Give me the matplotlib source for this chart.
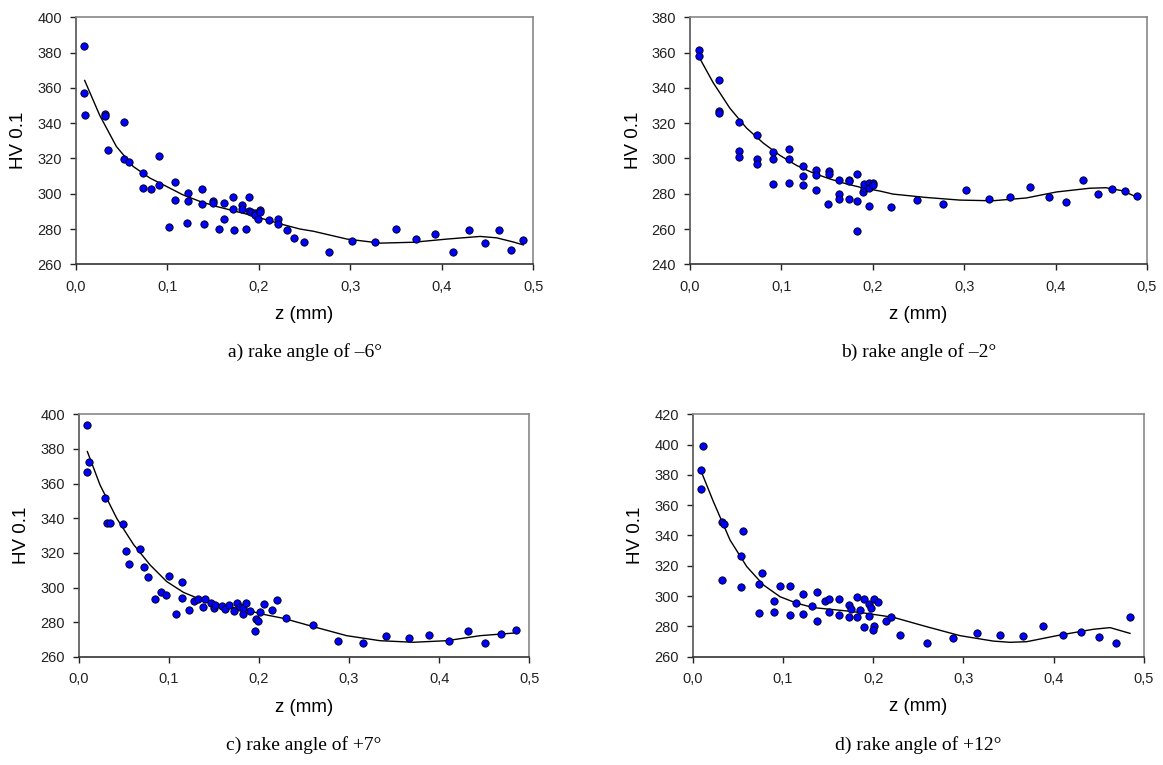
import matplotlib
matplotlib.use("Agg")
import matplotlib.pyplot as plt
import numpy as np

# a) rake angle -6
za = [0.0095, 0.0095, 0.0105, 0.0317, 0.0317, 0.0357, 0.053, 0.0525, 0.0587, 0.073,
      0.073, 0.082, 0.0907, 0.0907, 0.1016, 0.108, 0.108, 0.1228, 0.1228, 0.1217,
      0.1377, 0.1377, 0.14, 0.1505, 0.1505, 0.157, 0.1617, 0.1617, 0.172, 0.1716,
      0.1727, 0.1818, 0.1818, 0.1865, 0.1898, 0.1898, 0.191, 0.1956, 0.196, 0.2018,
      0.201, 0.1996, 0.2117, 0.2208, 0.2215, 0.231, 0.239, 0.249, 0.277, 0.302,
      0.327, 0.35, 0.372, 0.393, 0.412, 0.43, 0.447, 0.462, 0.476, 0.489]
hva = [384, 357, 344.5, 345.3, 344, 325, 340.6, 319.8, 318, 311.5,
       303, 302.5, 321.3, 304.7, 281.3, 306.8, 296.4, 300.4, 296, 283.6,
       302.8, 294, 283, 296, 295, 280, 294.7, 285.8, 298.1, 291.5,
       279.4, 293.8, 291.5, 280.2, 298.1, 290, 289.4, 289, 288, 290.6,
       289.4, 285.7, 285, 285.8, 283, 279.2, 275, 272.6, 266.8, 273.2,
       272.5, 280, 274.5, 277, 266.8, 279.2, 271.9, 279.6, 268.3, 273.8]
fit_za = [0.0098, 0.0262, 0.0444, 0.0627, 0.081, 0.099, 0.117, 0.1355, 0.1537, 0.172,
          0.19, 0.208, 0.2266, 0.245, 0.26, 0.2964, 0.333, 0.369, 0.4057, 0.442,
          0.46, 0.4785, 0.489]
fit_hva = [364.2, 344.5, 326.8, 315.5, 308.9, 304.2, 299.4, 295.7, 292.8, 290.4,
           288, 285.3, 282.5, 280, 278.7, 274.3, 272, 272.5, 274.3, 275.8,
           275, 272.6, 271]

# b) rake angle -2
zb = [0.0099, 0.0099, 0.0319, 0.0319, 0.0319, 0.0531, 0.0531, 0.0531, 0.0733, 0.0733,
      0.0733, 0.0912, 0.0912, 0.0912, 0.1084, 0.1084, 0.1084, 0.1234, 0.1234, 0.1234,
      0.1377, 0.138, 0.138, 0.1505, 0.1516, 0.1516, 0.1626, 0.1626, 0.1626, 0.1736,
      0.1736, 0.1736, 0.1828, 0.1828, 0.1828, 0.189, 0.1905, 0.1905, 0.1956, 0.1956,
      0.2007, 0.2007, 0.1956, 0.2204, 0.2485, 0.2766, 0.3018, 0.3266, 0.3496, 0.3719,
      0.393, 0.4117, 0.4296, 0.4467, 0.462, 0.476, 0.489]
hvb = [361.5, 358.1, 344.2, 327, 325.5, 320.4, 304.2, 301.1, 313.2, 299.8,
       296.6, 303.4, 299.6, 285.5, 305.5, 299.6, 286.2, 295.5, 290.2, 284.9,
       282.3, 293.2, 290.4, 274.2, 292.8, 291.3, 287.5, 279.8, 276.8, 288,
       287.2, 276.8, 291, 276, 259, 280.8, 283.2, 285.7, 286, 283,
       286, 285.1, 272.8, 272.3, 276.6, 274, 282.1, 277, 278.3, 283.6,
       277.9, 275.5, 287.5, 279.6, 282.8, 281.7, 278.9]
fit_zb = [0.0106, 0.0253, 0.0436, 0.0619, 0.0802, 0.0985, 0.1168, 0.135, 0.1535, 0.1718,
          0.19, 0.208, 0.222, 0.258, 0.295, 0.331, 0.368, 0.401, 0.437, 0.455,
          0.474, 0.489]
fit_hvb = [356.8, 343, 328.5, 317.2, 308.7, 301.7, 296, 291.7, 288.3, 285.5,
           283.2, 281.5, 279.8, 277.9, 276.4, 276, 277.6, 281, 283.1, 283.4,
           281.6, 278]

# c) rake angle +7
zc = [0.0096, 0.0111, 0.0096, 0.0296, 0.0318, 0.0344, 0.0496, 0.0525, 0.0559, 0.0677,
      0.0729, 0.077, 0.0847, 0.091, 0.0969, 0.1006, 0.1077, 0.1147, 0.1147, 0.1228,
      0.1276, 0.132, 0.138, 0.1398, 0.1472, 0.1498, 0.151, 0.159, 0.1624, 0.1672,
      0.1728, 0.1754, 0.1787, 0.182, 0.1828, 0.1861, 0.1898, 0.1961, 0.1968, 0.1994,
      0.2009, 0.2061, 0.2142, 0.2201, 0.2301, 0.26, 0.288, 0.315, 0.341, 0.366,
      0.389, 0.411, 0.432, 0.451, 0.469, 0.485]
hvc = [393.8, 372.7, 366.7, 351.7, 337.1, 337.1, 336.5, 321, 313.8, 322.5,
       312.1, 306.2, 293.7, 297.7, 296, 306.9, 284.6, 303.5, 294.2, 287.1,
       292.3, 293.7, 288.7, 293.7, 291, 288.1, 290, 289.6, 287.9, 290.2,
       286.7, 291.3, 289, 285, 288.5, 291, 286.7, 275.2, 281.9, 280.8,
       285.8, 290.4, 286.9, 292.7, 282.5, 278.7, 269.2, 268.3, 272.1, 270.8,
       272.9, 269, 275, 267.9, 273.5, 275.8]
fit_zc = [0.0096, 0.0237, 0.0422, 0.0607, 0.0792, 0.0977, 0.1162, 0.1347, 0.1532, 0.1717,
          0.19, 0.2087, 0.2272, 0.2604, 0.2974, 0.3344, 0.3714, 0.4084, 0.4454, 0.4824]
fit_hvc = [378.5, 359.2, 340, 325, 313.1, 303.5, 297.3, 293.3, 290.6, 288.5,
           286.5, 284.2, 282.3, 277.5, 272.3, 269.4, 268.5, 269.4, 272.3, 273.8]

# d) rake angle +12
zd = [0.0111, 0.0096, 0.0096, 0.0322, 0.0344, 0.0322, 0.0562, 0.0532, 0.0532, 0.0772,
      0.0732, 0.0732, 0.0905, 0.0905, 0.0968, 0.1079, 0.1079, 0.1149, 0.1227, 0.1227,
      0.1319, 0.1382, 0.1382, 0.1471, 0.1511, 0.1511, 0.1622, 0.1622, 0.1733, 0.1733,
      0.1752, 0.1822, 0.1822, 0.1859, 0.19, 0.19, 0.1959, 0.1973, 0.1959, 0.2014,
      0.2014, 0.1996, 0.2058, 0.2139, 0.2198, 0.2298, 0.2601, 0.2882, 0.3148, 0.3411,
      0.3659, 0.3888, 0.4109, 0.4309, 0.4509, 0.469, 0.4852]
hvd = [399.3, 383, 370.9, 348.9, 347.8, 310.6, 343, 326.3, 306.2, 315.5,
       307.8, 288.9, 296.8, 289.3, 306.5, 306.5, 287.5, 295.7, 301.2, 288,
       293.5, 302.7, 283.4, 297, 298.3, 289.3, 298.3, 287.3, 294.4, 286.2,
       291.5, 299.4, 286.4, 291.1, 298.3, 279.8, 294.6, 292.4, 286.9, 298.3,
       280.5, 277.9, 296.3, 283.8, 286, 274.5, 269.3, 272.2, 275.4, 274.1,
       273.5, 280.5, 274.5, 276.3, 273, 269.3, 286.2]
fit_zd = [0.0103, 0.0229, 0.0414, 0.0599, 0.0783, 0.0968, 0.1153, 0.1338, 0.1523, 0.1707,
          0.1892, 0.2224, 0.2594, 0.2963, 0.3333, 0.3518, 0.3703, 0.4072, 0.4442, 0.4627,
          0.4848]
fit_hvd = [381, 362.4, 337, 319.5, 307.4, 299.6, 295.3, 292.4, 291.3, 290.2,
           288.9, 286, 279.8, 273.9, 270.3, 269.5, 269.9, 274.3, 278.1, 279.2,
           275.4]

x_ticks = [0.0, 0.1, 0.2, 0.3, 0.4, 0.5]
x_labels = ["0,0", "0,1", "0,2", "0,3", "0,4", "0,5"]

W, H = 1163, 765
fig = plt.figure(figsize=(W / 100, H / 100), dpi=100)
plt.rcParams['font.family'] = ['Liberation Sans', 'DejaVu Sans']


def panel(box, z, hv, fz, fhv, ylo, yhi, caption):
    l, t, r, b = box
    ax = fig.add_axes([l / W, 1 - b / H, (r - l) / W, (b - t) / H])
    ax.plot(fz, fhv, color="black", lw=1.0, zorder=2)
    ax.scatter(z, hv, s=28, c="#0000ff", edgecolors="black", linewidths=0.6, zorder=3)
    ax.set_xlim(0, 0.5)
    ax.set_ylim(ylo, yhi)
    ax.set_xticks(x_ticks)
    ax.set_xticklabels(x_labels)
    ax.set_yticks(np.arange(ylo, yhi + 1, 20))
    ax.tick_params(direction="out", length=4, width=1, labelsize=10.5, colors="#222222")
    ax.tick_params(axis="x", pad=7)
    ax.tick_params(axis="y", pad=6)
    ax.spines["left"].set_color("#555555")
    ax.spines["bottom"].set_color("#333333")
    ax.spines["top"].set_color("#888888")
    ax.spines["right"].set_color("#888888")
    for s in ax.spines.values():
        s.set_linewidth(1.2)
    ax.set_xlabel("z (mm)", fontsize=13.5, labelpad=9)
    ax.set_ylabel("HV 0.1", fontsize=13.5, labelpad=7)
    fig.text((l + r) / 2 / W, 1 - (b + 88) / H, caption, ha="center", va="center",
             fontsize=14, family=["Liberation Serif", "DejaVu Serif"])
    return ax


panel((75.7, 17.3, 533.3, 264.3), za, hva, fit_za, fit_hva, 260, 400, "a) rake angle of \u20136\u00b0")
panel((690, 17.3, 1147, 264.3), zb, hvb, fit_zb, fit_hvb, 240, 380, "b) rake angle of \u20132\u00b0")
panel((78.7, 414.3, 529.3, 657), zc, hvc, fit_zc, fit_hvc, 260, 400, "c) rake angle of +7\u00b0")
panel((692.7, 414.3, 1143.7, 656.7), zd, hvd, fit_zd, fit_hvd, 260, 420, "d) rake angle of +12\u00b0")

fig.savefig("out.png", dpi=100)
